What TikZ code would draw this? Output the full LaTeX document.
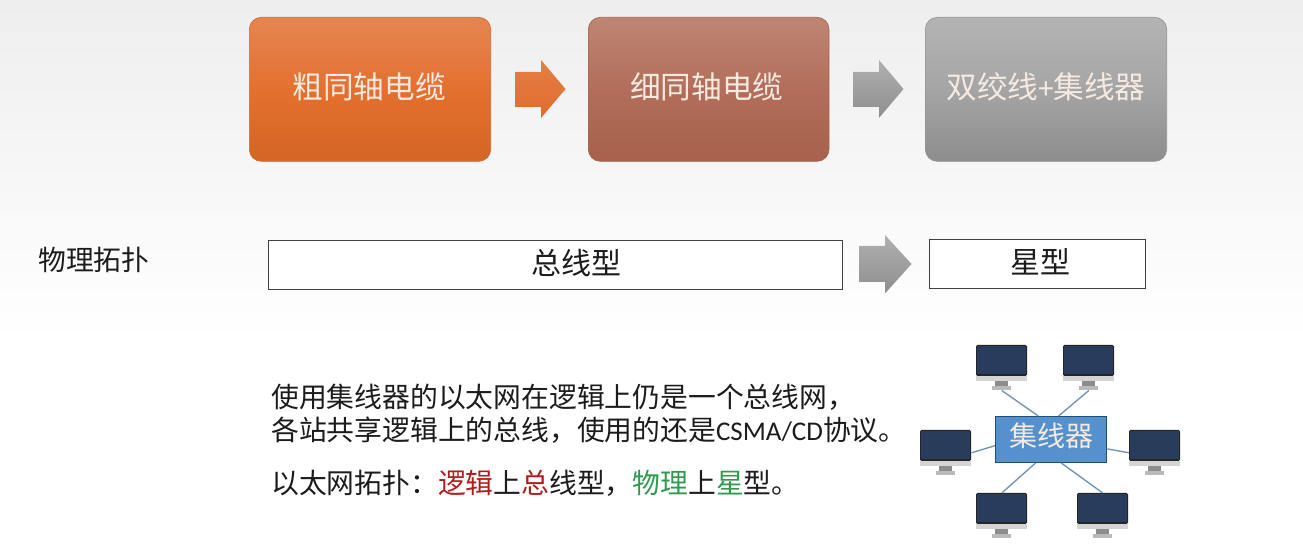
\documentclass[tikz,border=0pt]{standalone}
\usepackage{fontspec}
\usetikzlibrary{calc}
\setmainfont{Noto Sans CJK SC}
\newfontfamily\latinfont{Carlito}
\newcommand{\lifted}[3][0pt]{\raisebox{#2}[0pt][0pt]{\hspace*{#1}#3}}
\definecolor{txt}{HTML}{1C1C1C}
\definecolor{redtxt}{HTML}{B01C1C}
\definecolor{greentxt}{HTML}{2E9A4E}
\definecolor{screen}{HTML}{2A3C5C}
\definecolor{hubfill}{HTML}{5591CC}
\definecolor{hubline}{HTML}{1F4E79}
\definecolor{wire}{HTML}{6E93B5}
\definecolor{lighttxt}{HTML}{F5E9E0}
\definecolor{bgtop}{HTML}{EEEEEE}
\definecolor{obord}{HTML}{D06A30}
\definecolor{otop}{HTML}{E58552}
\definecolor{omid}{HTML}{E4702F}
\definecolor{obot}{HTML}{D46525}
\definecolor{bbord}{HTML}{A86652}
\definecolor{btop}{HTML}{BD8673}
\definecolor{bmid}{HTML}{B26E5A}
\definecolor{bbot}{HTML}{A7614D}
\definecolor{gbord}{HTML}{949494}
\definecolor{gtop}{HTML}{B4B4B4}
\definecolor{gmid}{HTML}{A5A5A5}
\definecolor{gbot}{HTML}{8D8D8D}
\definecolor{oatop}{HTML}{E67F45}
\definecolor{oabot}{HTML}{DD6C2C}
\definecolor{gatop}{HTML}{B0B0B0}
\definecolor{gabot}{HTML}{8E8E8E}
\tikzset{
  x=0.75pt,y=-0.75pt,
  bigbox/.style={rounded corners=9pt,draw=#1,line width=0.5pt,text=lighttxt,font=\fontsize{23}{28}\selectfont,inner sep=0pt,anchor=north west},
  orangebox/.style={bigbox=obord,top color=otop,bottom color=obot,middle color=omid,text=lighttxt},
  brownbox/.style={bigbox=bbord,top color=btop,bottom color=bbot,middle color=bmid,text=lighttxt},
  greybox/.style={bigbox=gbord,top color=gtop,bottom color=gbot,middle color=gmid,text=lighttxt},
  orangearrow/.style={top color=oatop,bottom color=oabot,draw=none},
  greyarrow/.style={top color=gatop,bottom color=gabot,draw=none},
  framebox/.style={draw=black!75,fill=white,line width=0.8pt,inner sep=0pt,anchor=north west,text=txt,font=\fontsize{22.5}{27}\selectfont},
  framelabel/.style={inner sep=0pt,text=txt,font=\fontsize{22.5}{27}\selectfont},
  bodytext/.style={anchor=west,inner sep=0pt,text=txt,font=\fontsize{20.85}{24.75}\selectfont},
  monitorbox/.style={inner sep=0pt,minimum width=38.25pt,minimum height=33.75pt,draw=none,anchor=north west},
  wireline/.style={draw=wire,line width=1pt},
  hubbox/.style={draw=hubline,fill=hubfill,line width=0.8pt,inner sep=0pt,anchor=north west,text=lighttxt,font=\fontsize{21}{25}\selectfont},
  monitor/.pic={
    \fill[black!17] (0,31) rectangle (51,36);
    \fill[black!45] (19,36) rectangle (32,41);
    \fill[black!27] (16,41) rectangle (35,45);
    \fill[black!85,rounded corners=1pt] (0,0) rectangle (51,31);
    \fill[screen] (1,1) rectangle (50,29.5);
  }
}
\begin{document}
\begin{tikzpicture}
\useasboundingbox (0,0) rectangle (1303,548);
\fill[white] (0,0) rectangle (1303,548);
\path[top color=bgtop,bottom color=white,draw=none] (0,0) rectangle (1303,340);

% top row
\node[orangebox,minimum width=181pt,minimum height=108pt] (b1) at (249,17) {\lifted[-1.5pt]{-6.75pt}{粗同轴电缆}};
\node[brownbox,minimum width=180.5pt,minimum height=108pt] (b2) at (588,17) {\lifted[-3pt]{-6.75pt}{细同轴电缆}};
\node[greybox,minimum width=181pt,minimum height=108pt] (b3) at (925,17) {\lifted{-6.75pt}{双绞线{\latinfont +}集线器}};
\path[orangearrow] (515,72) -- (541,72) -- (541,60) -- (565.5,89) -- (541,118) -- (541,107) -- (515,107) -- cycle;
\path[greyarrow] (853,72) -- (879,72) -- (879,60) -- (903.5,89) -- (879,118) -- (879,107) -- (853,107) -- cycle;

% middle row
\node[bodytext] (phy) at (38,260) {物理拓扑};
\node[framebox,minimum width=430.5pt,minimum height=36.75pt] (bus) at (268,240) {};
\node[framelabel] (buslabel) at (576.5,263) {总线型};
\node[framebox,minimum width=162pt,minimum height=36.75pt] (star) at (929,239) {};
\node[framelabel] (starlabel) at (1040,262) {星型};
\path[greyarrow] (859.5,246) -- (885,246) -- (885,235) -- (911.5,264) -- (885,293.5) -- (885,282) -- (859.5,282) -- cycle;

% text
\node[bodytext,align=left] (t1) at (271,414) {使用集线器的以太网在逻辑上仍是一个总线网，\\各站共享逻辑上的总线，使用的还是{\latinfont\fontsize{20.25}{24.75}\selectfont CSMA/CD}协议。};
\node[bodytext] (t2) at (271,483) {以太网拓扑：\textcolor{redtxt}{逻辑}上\textcolor{redtxt}{总}线型，\textcolor{greentxt}{物理}上\textcolor{greentxt}{星}型。};

% network
\node[hubbox,minimum width=83.5pt,minimum height=34.5pt] (hub) at (995,416) {\lifted{-5.25pt}{集线器}};
\pic at (976,345) {monitor};  \node[monitorbox] (m1) at (976,345) {};
\pic at (1063,345) {monitor}; \node[monitorbox] (m2) at (1063,345) {};
\pic at (920,430) {monitor};  \node[monitorbox] (m3) at (920,430) {};
\pic at (1129,430) {monitor}; \node[monitorbox] (m4) at (1129,430) {};
\pic at (976,493) {monitor};  \node[monitorbox] (m5) at (976,493) {};
\pic at (1077,493) {monitor}; \node[monitorbox] (m6) at (1077,493) {};
\coordinate (h1) at ($(hub.north west)!0.385!(hub.north east)$);
\coordinate (h2) at ($(hub.north west)!0.565!(hub.north east)$);
\coordinate (h3) at ($(hub.north west)!0.63!(hub.south west)$);
\coordinate (h4) at ($(hub.north east)!0.70!(hub.south east)$);
\coordinate (h5) at ($(hub.south west)!0.36!(hub.south east)$);
\coordinate (h6) at ($(hub.south west)!0.59!(hub.south east)$);
\draw[wireline] (m1.south) -- (h1);
\draw[wireline] (m2.south) -- (h2);
\draw[wireline] (m3.east) -- (h3);
\draw[wireline] (m4.west) -- (h4);
\draw[wireline] (m5.north) -- (h5);
\draw[wireline] (m6.north) -- (h6);
\end{tikzpicture}
\end{document}
